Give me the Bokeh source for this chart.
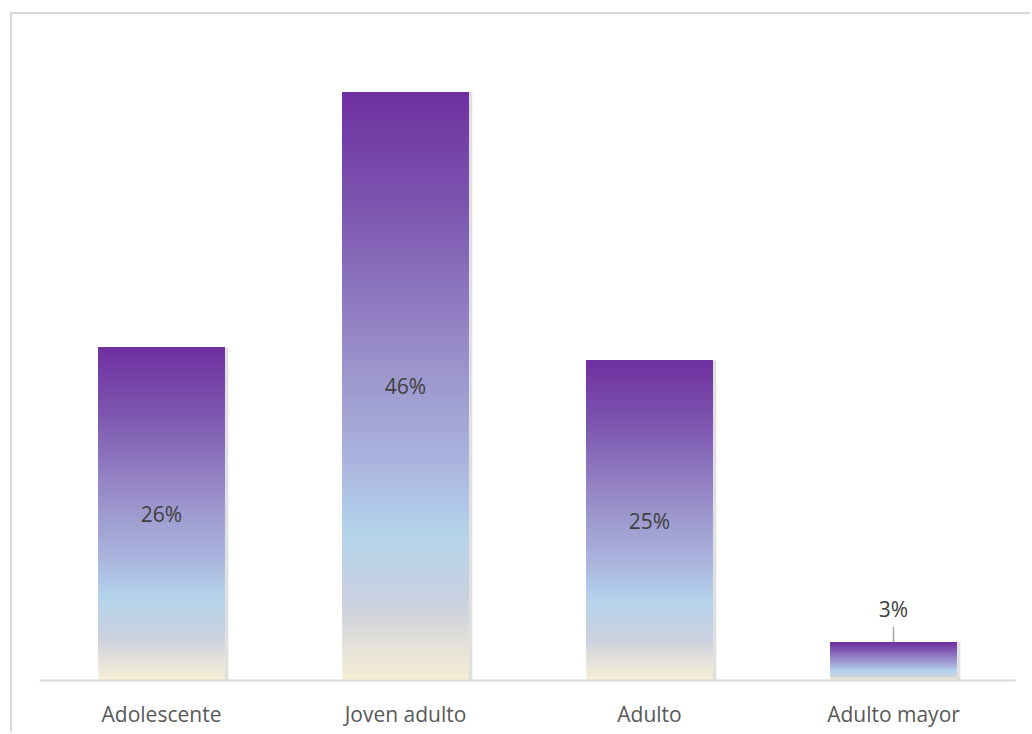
from bokeh.plotting import figure
from bokeh.models import Range1d, ColumnDataSource
from bokeh.transform import dodge
from bokeh.core.properties import value
from bokeh.embed import file_html
from bokeh.resources import INLINE

categories = ["Adolescente", "Joven adulto", "Adulto", "Adulto mayor"]
values = [26, 46, 25, 3]
labels = ["26%", "46%", "25%", "3%"]

# gradient stops (fraction from top of bar, colour)
stops = [(0.0, "#7030A0"), (0.2, "#7D56B0"), (0.48, "#9D96CD"), (0.62, "#A9B2DC"),
         (0.75, "#B4D4EC"), (0.87, "#CBD0DF"), (1.0, "#F7EFD5")]

def hex2rgb(h):
    return tuple(int(h[i:i + 2], 16) for i in (1, 3, 5))

def grad(f):
    for (f0, c0), (f1, c1) in zip(stops[:-1], stops[1:]):
        if f0 <= f <= f1:
            t = (f - f0) / (f1 - f0) if f1 > f0 else 0
            a, b = hex2rgb(c0), hex2rgb(c1)
            return "#%02x%02x%02x" % tuple(round(a[k] + (b[k] - a[k]) * t) for k in range(3))
    return stops[-1][1]

p = figure(width=1020, height=720, x_range=categories, y_range=Range1d(0, 50.8),
           output_backend="svg", toolbar_location=None,
           min_border_left=27, min_border_right=17, min_border_top=16, min_border_bottom=54)
p.margin = (12, 0, 0, 10)
p.styles = {"border-left": "2px solid #d9d9d9", "border-top": "2px solid #d9d9d9"}
p.outline_line_color = None
p.grid.visible = False
p.yaxis.visible = False
p.background_fill_color = "white"
p.border_fill_color = "white"

# shadow
p.vbar(x=dodge("cat", 0.014, range=p.x_range), top="v", bottom=-0.25, width=0.52,
       source=ColumnDataSource(dict(cat=categories, v=values)),
       fill_color="#000000", fill_alpha=0.12, line_color=None)

N = 90
xs, bots, tops, cols = [], [], [], []
for c, v in zip(categories, values):
    for i in range(N):
        xs.append(c)
        bots.append(v * i / N)
        tops.append(v)
        f = 1 - (i + 0.5) / N
        cols.append(grad(f))
p.vbar(x=xs, bottom=bots, top=tops, width=0.516, fill_color=cols, line_color=None)

# labels
inside = [i for i, v in enumerate(values) if v >= 10]
outside = [i for i, v in enumerate(values) if v < 10]
p.text(x=[categories[i] for i in inside], y=[values[i] / 2 for i in inside],
       text=[labels[i] for i in inside], text_align="center", text_baseline="middle",
       text_font=value("Open Sans"), text_font_size="21px", text_color="#404040")
p.text(x=[categories[i] for i in outside], y=[values[i] + 2.55 for i in outside],
       text=[labels[i] for i in outside], text_align="center", text_baseline="middle",
       text_font=value("Open Sans"), text_font_size="21px", text_color="#404040")
p.segment(x0=[categories[i] for i in outside], y0=[values[i] for i in outside],
          x1=[categories[i] for i in outside], y1=[values[i] + 1.2 for i in outside],
          line_color="#a6a6a6", line_width=1.5)

ax = p.xaxis[0]
ax.axis_line_color = "#d9d9d9"
ax.axis_line_width = 2
ax.major_tick_line_color = None
ax.minor_tick_line_color = None
ax.major_label_text_font = "Open Sans"
ax.major_label_text_font_size = "21px"
ax.major_label_text_color = "#595959"
ax.major_label_standoff = 13

open("out.html", "w").write(file_html(p, INLINE))
